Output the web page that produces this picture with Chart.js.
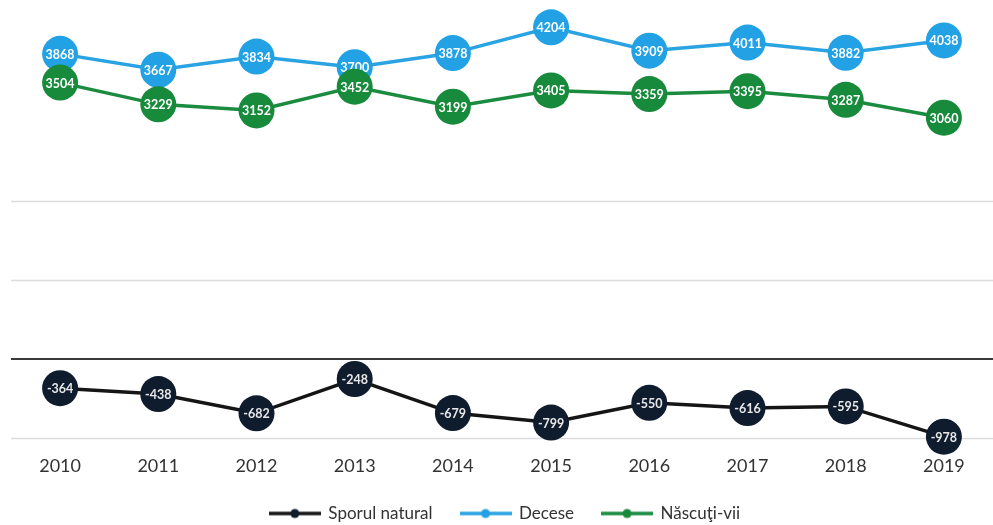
<!DOCTYPE html>
<html>
<head>
<meta charset="utf-8">
<script src="https://cdn.jsdelivr.net/npm/chart.js@4"></script>
<style>
html,body{margin:0;padding:0;background:#fff;}
#wrap{width:993px;height:525px;position:relative;}
</style>
</head>
<body>
<div id="wrap"><canvas id="c"></canvas></div>
<script>
const years = ['2010','2011','2012','2013','2014','2015','2016','2017','2018','2019'];
const sporulNatural = [-364,-438,-682,-248,-679,-799,-550,-616,-595,-978];
const decese = [3868,3667,3834,3700,3878,4204,3909,4011,3882,4038];
const nascutiVii = [3504,3229,3152,3452,3199,3405,3359,3395,3287,3060];
const seriesNames = ['Sporul natural','Decese','Născuţi-vii'];
const gridValues = [-1000, 1000, 2000];
const zeroValue = 0;

const lineColors = ['#151515','#2aa3e2','#1a8b3f'];
const pointColors = ['#0f1c2e','#22a1e4','#178a3c'];

function makeIcon(lineColor, dotColor){
  const cv = document.createElement('canvas');
  cv.width = 52; cv.height = 12;
  const c = cv.getContext('2d');
  c.strokeStyle = lineColor; c.lineWidth = 3.5;
  c.beginPath(); c.moveTo(0,6); c.lineTo(52,6); c.stroke();
  c.fillStyle = dotColor;
  c.beginPath(); c.arc(26,6,4.5,0,Math.PI*2); c.fill();
  return cv;
}
const legendIcons = [0,1,2].map(i=>makeIcon(lineColors[i], pointColors[i]));

const gridPlugin = {
  id:'customGrid',
  beforeDatasetsDraw(chart){
    const ctx = chart.ctx, a = chart.chartArea, y = chart.scales.y;
    ctx.save();
    ctx.strokeStyle = '#dcdcdc';
    ctx.lineWidth = 1.5;
    gridValues.forEach(v=>{
      const py = Math.round(y.getPixelForValue(v)) + 0.5;
      ctx.beginPath(); ctx.moveTo(a.left, py); ctx.lineTo(a.right, py); ctx.stroke();
    });
    ctx.strokeStyle = '#3a3a3a';
    ctx.lineWidth = 2;
    const pz = Math.round(y.getPixelForValue(zeroValue));
    ctx.beginPath(); ctx.moveTo(a.left, pz); ctx.lineTo(a.right, pz); ctx.stroke();
    ctx.restore();
  }
};

const labelPlugin = {
  id:'pointLabels',
  afterDatasetDraw(chart, args){
    const ctx = chart.ctx;
    const ds = chart.data.datasets[args.index];
    ctx.save();
    ctx.font = 'bold 12.5px Lato, "DejaVu Sans", sans-serif';
    ctx.fillStyle = ds.labelColor || '#fff';
    ctx.textAlign = 'center';
    ctx.textBaseline = 'middle';
    args.meta.data.forEach((pt,j)=>{
      ctx.fillText(String(ds.data[j]), pt.x, pt.y+1);
    });
    ctx.restore();
  }
};

function mkDs(i, data, order){
  return {
    label: seriesNames[i],
    data: data,
    borderColor: lineColors[i],
    backgroundColor: pointColors[i],
    pointBackgroundColor: pointColors[i],
    pointBorderColor: pointColors[i],
    pointBorderWidth: 0,
    pointRadius: 18,
    pointHoverRadius: 18,
    borderWidth: 3.5,
    tension: 0,
    clip: false,
    order: order,
    labelColor: i===0 ? '#e8e8e8' : '#ffffff'
  };
}

new Chart(document.getElementById('c'), {
  type:'line',
  data:{
    labels: years,
    datasets:[ mkDs(0, sporulNatural, 0), mkDs(1, decese, 2), mkDs(2, nascutiVii, 1) ]
  },
  options:{
    responsive:true,
    maintainAspectRatio:false,
    animation:false,
    layout:{autoPadding:false,padding:{left:11,right:-6,top:0,bottom:-7}},
    plugins:{
      tooltip:{enabled:false},
      legend:{
        position:'bottom',
        labels:{
          usePointStyle:true,
          pointStyleWidth:50,
          padding:28,
          color:'#333',
          font:{size:17,family:'Lato, "Open Sans", sans-serif'},
          generateLabels(chart){
            return chart.data.datasets.map((ds,i)=>({
              text: ds.label,
              fillStyle: lineColors[i],
              strokeStyle: lineColors[i],
              lineWidth: 0,
              pointStyle: legendIcons[i],
              datasetIndex: i,
              hidden: false,
              fontColor:'#333'
            }));
          }
        }
      }
    },
    scales:{
      x:{
        offset:true,
        grid:{display:false},
        border:{display:false},
        ticks:{color:'#333',padding:9,font:{size:18,family:'Lato, "Open Sans", sans-serif'}},
        afterFit(scale){ scale.height -= 9; }
      },
      y:{
        display:false,
        min:-1000,
        max:4550
      }
    }
  },
  plugins:[gridPlugin, labelPlugin]
});
</script>
</body>
</html>
